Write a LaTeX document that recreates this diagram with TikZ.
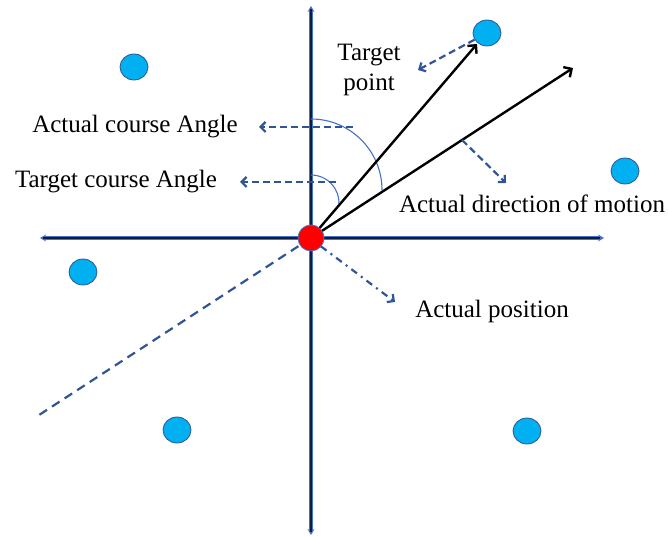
\documentclass[tikz,border=0pt]{standalone}
\usepackage{fontspec}
\setmainfont{Liberation Serif}
\usetikzlibrary{arrows.meta,shapes.geometric}
\definecolor{navy}{RGB}{16,28,60}
\definecolor{axisblue}{RGB}{68,114,196}
\definecolor{dblue}{RGB}{47,85,151}
\definecolor{arcblue}{RGB}{68,114,196}
\definecolor{cyanfill}{RGB}{0,176,240}
\tikzset{
  lbl/.style={font=\fontsize{25}{30}\selectfont, inner sep=0pt, align=center},
  dot/.style={ellipse, draw=dblue, line width=0.8pt, fill=cyanfill, minimum width=28pt, minimum height=26pt, inner sep=0pt},
  origindot/.style={circle, draw=axisblue, line width=0.8pt, fill=red, minimum size=26pt, inner sep=0pt},
  axisbase/.style={line width=4.4pt, draw=axisblue, {Stealth[length=6pt,width=7pt]}-{Stealth[length=6pt,width=7pt]}},
  axistop/.style={line width=2.6pt, draw=navy},
  dasharrow/.style={draw=dblue, line width=2.2pt, dash pattern=on 7pt off 4pt, -{Straight Barb[length=5pt,width=10pt,line width=2.2pt]}},
  blackarrow/.style={draw=black, line width=2.4pt, -{Straight Barb[length=6pt,width=12pt,line width=2.4pt]}},
  anglearc/.style={draw=arcblue, line width=1.1pt},
}
\begin{document}
\begin{tikzpicture}[x=1pt,y=1pt]
\useasboundingbox (0,0) rectangle (668,537);
% axis ends
\coordinate (xl) at (40,299);
\coordinate (xr) at (604,299);
\coordinate (yb) at (311,2);
\coordinate (yt) at (311,531);
\draw[axisbase] (xl) -- (xr);
\draw[axisbase] (yb) -- (yt);
\draw[axistop] (43,299) -- (600,299);
\draw[axistop] (311,5) -- (311,528);
% origin
\coordinate (O) at (311,299);
% arrow ends
\coordinate (tp) at (477,493);
\coordinate (ad) at (573,469);
\coordinate (back) at (36,120);
% angle arcs
\draw[anglearc] (311,418) arc[start angle=90, end angle=0, radius=71];
\draw[anglearc] (311,362) arc[start angle=90, end angle=-6, radius=28];
% black arrows
\draw[blackarrow] (O) -- (tp);
\draw[blackarrow] (O) -- (ad);
% backward dashed extension
\draw[draw=dblue, line width=2.2pt, dash pattern=on 9pt off 6pt] (O) -- (back);
% blue dots
\node[dot] (c1) at (134,470) {};
\node[dot] (c2) at (487,504) {};
\node[dot] (c3) at (625,366) {};
\node[dot] (c4) at (83,265) {};
\node[dot] (c5) at (177,107) {};
\node[dot] (c6) at (527,106) {};
% labels
\node[lbl] (lac) at (135,410) {Actual course Angle};
\node[lbl] (ltc) at (116,355) {Target course Angle};
\node[lbl] (ltp) at (369,467) {Target\\point};
\node[lbl] (lad) at (532,333) {Actual direction of motion};
\node[lbl] (lap) at (492,226) {Actual position};
% dashed pointer arrows
\coordinate (acs) at (353,410);
\coordinate (ace) at (259,410);
\coordinate (tcs) at (336,355);
\coordinate (tce) at (240,355);
\coordinate (tpe) at (418,467);
\coordinate (ads) at (462,397);
\coordinate (ade) at (506,354);
\coordinate (ape) at (395,235);
\draw[dasharrow] (acs) -- (ace);
\draw[dasharrow] (tcs) -- (tce);
\draw[dasharrow] (c2) -- (tpe);
\draw[dasharrow] (ads) -- (ade);
\draw[dasharrow, dash pattern=on 7pt off 5pt on 2pt off 5pt] (O) ++(-40:13pt) -- (ape);
% origin dot on top
\node[origindot] (od) at (O) {};
\end{tikzpicture}
\end{document}
